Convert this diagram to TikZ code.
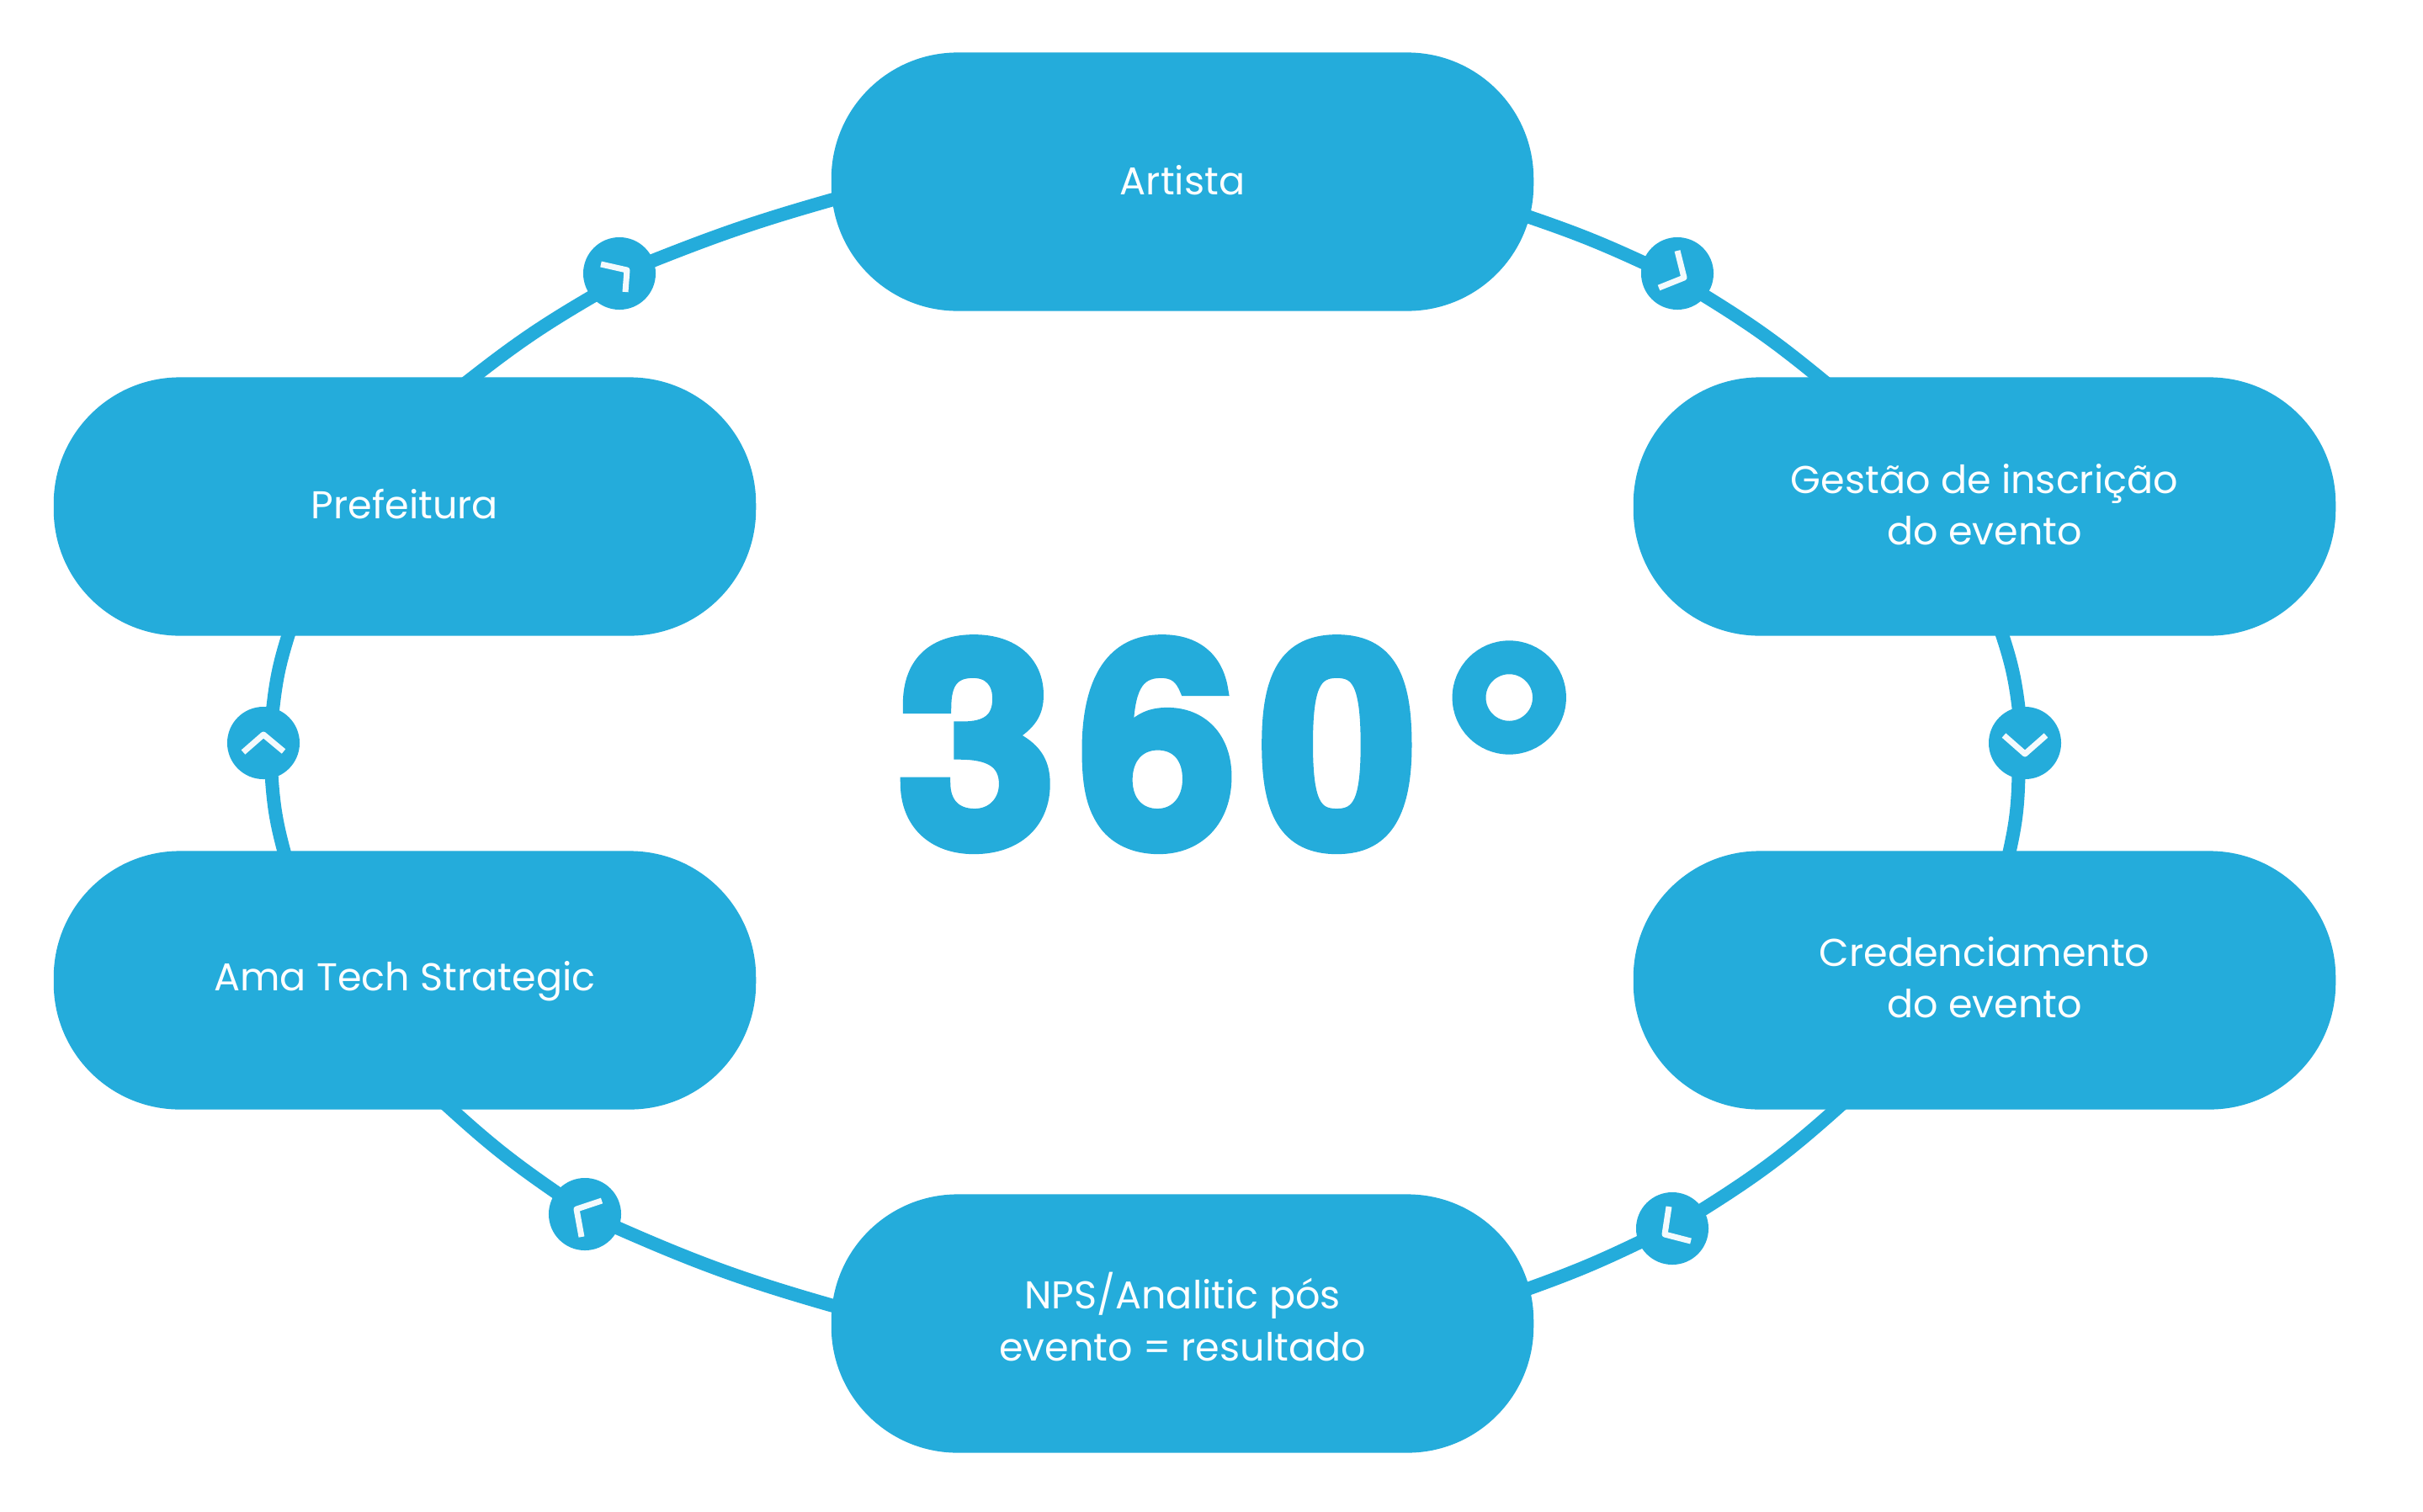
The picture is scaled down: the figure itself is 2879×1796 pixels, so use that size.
\documentclass[tikz,border=0pt]{standalone}
\usepackage{fontspec}
\setmainfont{Poppins}
\newfontfamily\bigfont[FakeBold=4,LetterSpace=8]{TeX Gyre Heros Bold}
\definecolor{brand}{HTML}{24ACDB}
\definecolor{chevwhite}{HTML}{F3FAFD}
\newcommand{\liftby}[1]{\rule[-#1]{0pt}{#1}}
\tikzset{
  pill/.style={rectangle,rounded corners=1.5cm,fill=brand,text=white,minimum width=8.34cm,minimum height=3.07cm,inner sep=0pt,align=center,font=\fontsize{13.1}{17.4}\selectfont},
  bubble/.style={circle,fill=brand,minimum size=0.86cm,inner sep=0pt},
  link/.style={draw=brand,line width=0.16cm,shorten <=-0.12cm,shorten >=-0.12cm},
  chev/.style={draw=chevwhite,line width=0.07cm,line join=round}
}
\begin{document}
\begin{tikzpicture}[x=0.01cm,y=-0.01cm]
\useasboundingbox[fill=white] (0,0) rectangle (2879,1796);
\node[pill] (artista) at (1405,216) {Artista\liftby{1.1pt}};
\node[pill] (gestao) at (2358,602) {Gestão de inscrição\\do evento\liftby{1.6pt}};
\node[pill] (cred) at (2358,1165) {Credenciamento\\do evento\liftby{2pt}};
\node[pill] (nps) at (1405,1573) {NPS/Analitic pós\\evento = resultado\liftby{4.7pt}};
\node[pill] (ama) at (481,1165) {\rule{0pt}{10.4pt}Ama Tech Strategic};
\node[pill] (pref) at (481,602) {Prefeitura\liftby{2pt}};
\node[bubble] (b1) at (1993,325) {};
\node[bubble] (b2) at (2406,883) {};
\node[bubble] (b3) at (1987,1460) {};
\node[bubble] (b4) at (695,1443) {};
\node[bubble] (b5) at (313,883) {};
\node[bubble] (b6) at (736,325) {};
\node[text=brand,font=\bigfont\fontsize{96}{96}\selectfont,inner sep=0pt] (title) at (1471.5,913) {360\kern7.5pt\raisebox{-17pt}{\fontsize{118}{118}\selectfont °}};
\draw[link] (artista.-6.5) to[bend left=3] (b1.162);
\draw[link] (b1.-39.5) to[bend left=4] (gestao.142);
\draw[link] (gestao.-82.5) to[bend left=6] (b2.100);
\draw[link] (b2.-100) to[bend left=6] (cred.79.3);
\draw[link] (cred.-139.3) to[bend left=5] (b3.32.6);
\draw[link] (b3.203.5) to[bend left=3] (nps.6.2);
\draw[link] (nps.177.3) to[bend left=4] (b4.-23);
\draw[link] (b4.143) to[bend left=4] (ama.-70.3);
\draw[link] (ama.133.5) to[bend left=6] (b5.-77);
\draw[link] (b5.75) to[bend left=6] (pref.-132.3);
\draw[link] (pref.62.8) to[bend left=4] (b6.220);
\draw[link] (b6.21.6) to[bend left=3] (artista.183.2);
\draw[chev] ([shift={(0,-27)}]b1.center) -- ([shift={(8,5)}]b1.center) -- ([shift={(-22,17)}]b1.center);
\draw[chev] ([shift={(-25,-9)}]b2.center) -- ([shift={(0,13)}]b2.center) -- ([shift={(25,-9)}]b2.center);
\draw[chev] ([shift={(-4,-26)}]b3.center) -- ([shift={(-9,7)}]b3.center) -- ([shift={(22,15)}]b3.center);
\draw[chev] ([shift={(20,-16)}]b4.center) -- ([shift={(-10,-6)}]b4.center) -- ([shift={(-4,27)}]b4.center);
\draw[chev] ([shift={(-24,11)}]b5.center) -- ([shift={(0,-10)}]b5.center) -- ([shift={(24,10)}]b5.center);
\draw[chev] ([shift={(-22,-11)}]b6.center) -- ([shift={(9,-4)}]b6.center) -- ([shift={(7,22)}]b6.center);
\end{tikzpicture}
\end{document}
